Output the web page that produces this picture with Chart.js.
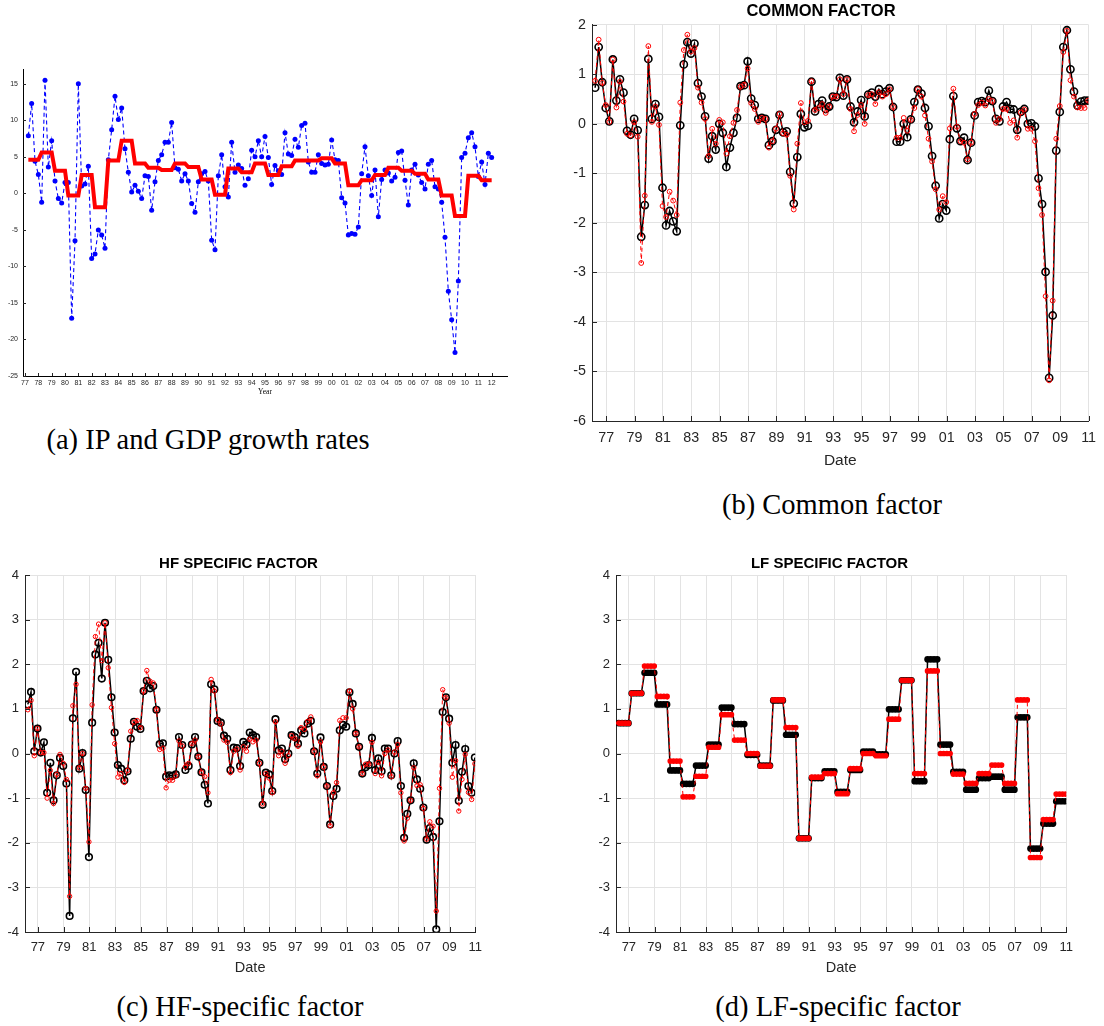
<!DOCTYPE html>
<html>
<head>
<meta charset="utf-8">
<script src="https://cdn.jsdelivr.net/npm/chart.js@4.4.1/dist/chart.umd.min.js"></script>
<style>
  body { margin: 0; background: #fff; width: 1104px; height: 1026px; position: relative; overflow: hidden; }
  canvas { position: absolute; }
  .cap { position: absolute; font-family: "Liberation Serif", "Times New Roman", serif; font-size: 28.5px; line-height: 28px; color: #000; text-align: center; white-space: nowrap; }
</style>
</head>
<body>
<canvas id="chartA" width="515" height="345" style="left:0;top:60px"></canvas>
<canvas id="chartB" width="556" height="478" style="left:548px;top:0"></canvas>
<canvas id="chartC" width="490" height="430" style="left:0;top:553px"></canvas>
<canvas id="chartD" width="490" height="430" style="left:591px;top:553px"></canvas>

<div class="cap" style="left:8px;width:400px;top:426px">(a) IP and GDP growth rates</div>
<div class="cap" style="left:632px;width:400px;top:491px">(b) Common factor</div>
<div class="cap" style="left:40px;width:400px;top:993px">(c) HF-specific factor</div>
<div class="cap" style="left:638px;width:400px;top:993px">(d) LF-specific factor</div>

<script>
// ========== data ==========
// (a) quarterly IP growth, 1977Q2 onwards, and annual GDP growth 1977-2011
const ipGrowth = [
  7.9, 12.3, 4.4, 2.6, -1.2, 15.5, 3.6, 7.2, 1.7, -0.7,
  -1.3, 1.5, 1.5, -17.1, -6.5, 15.0, 1.0, 1.3, 3.7, -8.9,
  -8.3, -5.0, -5.7, -7.5, 4.6, 8.7, 13.3, 10.1, 11.7, 6.1,
  2.9, 0.2, 1.1, 0.3, -0.7, 2.4, 2.3, -2.3, 1.6, 4.5,
  5.3, 7.0, 7.0, 9.7, 3.5, 3.3, 1.7, 2.7, 1.7, -1.4,
  -2.6, 1.6, 2.7, 3.0, 1.7, -6.4, -7.7, 2.4, 5.3, 0.9,
  -0.5, 7.0, 2.9, 3.9, 3.4, 1.1, 2.0, 5.9, 5.0, 7.2,
  5.0, 7.8, 4.9, 1.2, 3.8, 3.1, 2.6, 8.3, 5.4, 5.2,
  7.4, 6.3, 9.3, 9.6, 4.3, 2.9, 2.9, 5.3, 4.1, 3.9,
  4.0, 7.3, 4.6, 4.5, -0.6, -1.3, -5.7, -5.5, -5.6, -4.6,
  2.7, 6.4, 2.4, -0.3, 3.2, -3.2, 1.9, 3.2, 2.8, 1.7,
  2.2, 5.6, 5.8, 1.8, -1.6, 3.2, 4.0, 2.5, 1.5, 0.6,
  4.0, 4.5, 0.9, 0.6, -1.2, -6.0, -13.4, -17.3, -21.8, -12.0,
  4.9, 5.5, 7.6, 8.3, 6.4, 2.3, 4.3, 1.2, 5.5, 4.9
];
const gdpGrowth = [
  4.6, 5.6, 3.1, -0.3, 2.5, -1.9, 4.5, 7.2, 4.1, 3.5,
  3.2, 4.1, 3.6, 1.9, -0.2, 3.4, 2.9, 4.1, 2.5, 3.7,
  4.5, 4.5, 4.8, 4.1, 1.1, 1.8, 2.5, 3.5, 3.1, 2.7,
  1.9, -0.3, -3.1, 2.4, 1.8
];
const ticksA = [77, 78, 79, 80, 81, 82, 83, 84, 85, 86, 87, 88, 89, 90, 91, 92, 93, 94,
  95, 96, 97, 98, 99, 100, 101, 102, 103, 104, 105, 106, 107, 108, 109, 110, 111, 112];
const yTicksA = [-25, -20, -15, -10, -5, 0, 5, 10, 15];

// (b) common factor, quarterly 1976-2010 (black: estimate, red: comparison)
const commonBlack = [
  0.73, 1.55, 0.84, 0.32, 0.05, 1.30, 0.47, 0.90, 0.63, -0.14,
  -0.22, 0.10, -0.13, -2.28, -1.64, 1.31, 0.10, 0.40, 0.14, -1.29,
  -2.05, -1.76, -1.97, -2.17, -0.03, 1.20, 1.65, 1.42, 1.62, 0.82,
  0.55, 0.15, -0.70, -0.25, -0.52, 0.00, -0.18, -0.87, -0.48, -0.18,
  0.12, 0.76, 0.78, 1.26, 0.51, 0.38, 0.10, 0.12, 0.10, -0.43,
  -0.35, -0.12, 0.18, -0.17, -0.15, -0.97, -1.61, -0.67, 0.20, -0.07,
  -0.04, 0.85, 0.25, 0.40, 0.47, 0.30, 0.35, 0.55, 0.54, 0.93,
  0.57, 0.90, 0.35, 0.03, 0.25, 0.48, 0.15, 0.59, 0.63, 0.55,
  0.70, 0.60, 0.65, 0.72, 0.34, -0.36, -0.36, 0.00, -0.27, 0.09,
  0.44, 0.69, 0.61, 0.32, -0.05, -0.65, -1.25, -1.91, -1.62, -1.75,
  -0.31, 0.56, -0.09, -0.35, -0.28, -0.73, -0.38, 0.17, 0.44, 0.46,
  0.44, 0.67, 0.46, 0.10, 0.05, 0.35, 0.44, 0.30, 0.29, -0.12,
  0.24, 0.30, 0.00, 0.01, -0.05, -1.10, -1.62, -2.99, -5.13, -3.87,
  -0.54, 0.24, 1.55, 1.89, 1.10, 0.65, 0.37, 0.45, 0.47, 0.47
];
const commonRed = [
  0.87, 1.70, 0.83, 0.38, 0.04, 1.30, 0.33, 0.85, 0.45, -0.20,
  -0.23, 0.03, -0.26, -2.81, -1.45, 1.57, 0.04, 0.35, -0.02, -1.66,
  -1.88, -1.37, -1.55, -1.84, 0.43, 1.49, 1.80, 1.46, 1.53, 0.73,
  0.43, 0.10, -0.65, -0.10, -0.40, 0.08, 0.03, -0.60, -0.25, 0.02,
  0.28, 0.75, 0.79, 1.12, 0.42, 0.30, 0.04, 0.12, 0.10, -0.48,
  -0.35, -0.10, 0.20, -0.19, -0.22, -1.05, -1.73, -0.40, 0.42, 0.03,
  0.06, 0.86, 0.28, 0.32, 0.40, 0.22, 0.35, 0.55, 0.55, 0.90,
  0.60, 0.90, 0.30, -0.15, 0.18, 0.38, 0.00, 0.58, 0.60, 0.40,
  0.64, 0.55, 0.60, 0.70, 0.34, -0.28, -0.28, 0.12, -0.14, 0.08,
  0.32, 0.70, 0.55, 0.17, -0.30, -0.76, -1.32, -1.73, -1.46, -1.58,
  -0.09, 0.71, -0.06, -0.35, -0.38, -0.72, -0.38, 0.20, 0.38, 0.43,
  0.37, 0.50, 0.46, 0.02, 0.10, 0.30, 0.30, 0.02, 0.07, -0.28,
  0.23, 0.29, -0.10, -0.10, -0.35, -1.30, -1.84, -3.48, -5.18, -3.57,
  -0.30, 0.36, 1.45, 1.88, 0.88, 0.55, 0.33, 0.32, 0.32, 0.47
];

// (c) HF-specific factor, quarterly
const hfBlack = [
  1.10, 1.38, 0.05, 0.56, 0.02, 0.25, -0.88, -0.21, -1.05, -0.49,
  -0.10, -0.28, -0.67, -3.64, 0.79, 1.83, -0.34, 0.01, -0.82, -2.32,
  0.69, 2.22, 2.48, 1.68, 2.93, 2.10, 1.26, 0.47, -0.26, -0.34,
  -0.60, -0.40, 0.33, 0.71, 0.60, 0.55, 1.40, 1.63, 1.46, 1.51,
  0.98, 0.21, 0.23, -0.52, -0.49, -0.50, -0.47, 0.37, 0.19, -0.37,
  -0.28, 0.20, 0.37, -0.07, -0.42, -0.70, -1.12, 1.55, 1.44, 0.73,
  0.69, 0.40, 0.33, -0.37, 0.13, 0.12, -0.28, 0.26, 0.20, 0.47,
  0.41, 0.37, -0.21, -1.15, -0.43, -0.47, -0.84, 0.77, 0.07, 0.11,
  -0.13, 0.00, 0.41, 0.37, 0.22, 0.52, 0.45, 0.67, 0.73, 0.05,
  -0.45, 0.36, -0.30, -0.73, -1.59, -0.95, -0.79, 0.52, 0.64, 0.60,
  1.37, 1.11, 0.45, 0.15, -0.45, -0.31, -0.26, 0.35, -0.37, -0.11,
  -0.40, 0.11, 0.11, -0.49, 0.00, 0.28, -0.73, -1.89, -1.35, -1.05,
  -0.22, -0.58, -0.79, -1.21, -1.93, -1.67, -1.87, -3.94, -1.52, 0.93,
  1.26, 0.78, -0.21, 0.19, -1.06, -0.41, 0.10, -0.73, -0.88, -0.09
];
const hfRed = [
  0.98, 1.19, -0.05, 0.56, 0.02, 0.02, -1.00, -0.38, -1.12, -0.47,
  -0.02, -0.22, -0.58, -3.20, 1.07, 1.55, -0.32, 0.00, -0.78, -1.98,
  1.09, 2.62, 2.90, 2.08, 2.93, 1.92, 1.03, 0.22, -0.53, -0.45,
  -0.65, -0.38, 0.50, 0.70, 0.74, 0.58, 1.40, 1.86, 1.62, 1.58,
  0.98, 0.09, 0.12, -0.77, -0.60, -0.60, -0.50, 0.28, 0.17, -0.30,
  -0.22, 0.22, 0.30, -0.07, -0.42, -0.52, -0.88, 1.66, 1.40, 0.75,
  0.66, 0.30, 0.25, -0.43, 0.05, 0.10, -0.37, 0.15, 0.05, 0.32,
  0.26, 0.30, -0.22, -1.13, -0.45, -0.55, -0.88, 0.71, -0.05, 0.05,
  -0.22, -0.05, 0.40, 0.33, 0.16, 0.58, 0.54, 0.72, 0.82, 0.05,
  -0.50, 0.26, -0.30, -0.73, -1.62, -0.88, -0.65, 0.74, 0.80, 0.80,
  1.40, 1.00, 0.45, 0.15, -0.45, -0.24, -0.24, 0.25, -0.45, -0.20,
  -0.50, 0.00, 0.08, -0.52, 0.03, 0.20, -0.88, -1.96, -1.45, -1.05,
  -0.32, -0.72, -0.70, -1.23, -1.92, -1.53, -1.63, -3.53, -0.78, 1.43,
  1.25, 0.68, -0.53, -0.16, -1.29, -0.58, -0.02, -0.87, -1.03, -0.23
];

// (d) LF-specific factor, one value per year 1976-2010 (held over the 4 quarters)
const lfBlack = [
  0.68, 1.35, 1.81, 1.10, -0.38, -0.68, -0.27, 0.20, 1.03, 0.66,
  -0.03, -0.27, 1.19, 0.42, -1.90, -0.55, -0.40, -0.86, -0.37, 0.04,
  -0.02, 0.99, 1.64, -0.62, 2.11, 0.20, -0.41, -0.81, -0.55, -0.52,
  -0.81, 0.81, -2.13, -1.57, -1.07
];
const lfRed = [
  0.68, 1.35, 1.96, 1.28, -0.17, -0.97, -0.51, 0.14, 0.87, 0.30,
  0.00, -0.28, 1.20, 0.58, -1.90, -0.53, -0.45, -0.90, -0.34, 0.00,
  -0.05, 0.77, 1.64, -0.45, 1.85, 0.00, -0.46, -0.67, -0.45, -0.26,
  -0.67, 1.20, -2.33, -1.48, -0.91
];

const factorXTicks = [77, 79, 81, 83, 85, 87, 89, 91, 93, 95, 97, 99, 101, 103, 105, 107, 109, 111];
const factorYTicksB = [-6, -5, -4, -3, -2, -1, 0, 1, 2];
const factorYTicksCD = [-4, -3, -2, -1, 0, 1, 2, 3, 4];

// ========== helpers ==========
const SANS = '"Liberation Sans", Arial, Helvetica, sans-serif';
const TXT = '#262626';

// quarterly dates -> points
function quarterly(values, start) {
  return values.map((v, i) => ({ x: start + 0.25 * i, y: v }));
}
// annual value held for each quarter
function perQuarter(annual) {
  const out = [];
  annual.forEach(v => { for (let q = 0; q < 4; q++) out.push(v); });
  return out;
}
const yy = v => String(Math.round(v) % 100).padStart(2, '0');

// MATLAB-like inward tick marks
const inTicks = {
  id: 'inTicks',
  afterDraw(chart, args, opts) {
    const { ctx, chartArea: a } = chart;
    const x = chart.scales.x, y = chart.scales.y;
    const len = opts.len || 5;
    ctx.save();
    ctx.strokeStyle = TXT;
    ctx.lineWidth = 1;
    ctx.beginPath();
    x.ticks.forEach(t => {
      const px = Math.round(x.getPixelForValue(t.value)) + 0.5;
      ctx.moveTo(px, a.bottom); ctx.lineTo(px, a.bottom - len);
    });
    y.ticks.forEach(t => {
      const py = Math.round(y.getPixelForValue(t.value)) + 0.5;
      ctx.moveTo(a.left, py); ctx.lineTo(a.left + len, py);
    });
    ctx.stroke();
    ctx.restore();
  }
};
Chart.register(inTicks);

// ========== (a) IP and GDP ==========
function setupPanelA() {
  new Chart(document.getElementById('chartA'), {
    type: 'line',
    data: {
      datasets: [{
        data: quarterly(perQuarter(gdpGrowth), 77.25),
        borderColor: '#ff0000',
        borderWidth: 4,
        pointRadius: 0,
        tension: 0
      }, {
        data: quarterly(ipGrowth, 77.25),
        borderColor: '#0000ff',
        borderWidth: 1.1,
        borderDash: [4, 3],
        pointRadius: 2.5,
        pointBorderWidth: 0,
        pointBackgroundColor: '#0000ff',
        tension: 0
      }]
    },
    options: {
      responsive: false,
      animation: false,
      events: [],
      layout: { padding: { top: 5, right: 8, left: 0, bottom: 0 } },
      plugins: { legend: { display: false }, tooltip: { enabled: false }, inTicks: { len: 3 } },
      scales: {
        x: {
          type: 'linear', min: 76.85, max: 113.15,
          afterBuildTicks: s => { s.ticks = ticksA.map(v => ({ value: v })); },
          afterFit: s => { s.height = 29; },
          grid: { display: false, drawTicks: false },
          border: { color: '#000', width: 1 },
          ticks: { autoSkip: false, maxRotation: 0, minRotation: 0, padding: 3, color: TXT,
            font: { family: SANS, size: 7 }, callback: v => yy(v) },
          title: { display: true, text: 'Year', color: '#000',
            font: { family: '"Liberation Serif", serif', size: 7.5 }, padding: { top: 0, bottom: 8 } }
        },
        y: {
          min: -25, max: 17,
          afterBuildTicks: s => { s.ticks = yTicksA.map(v => ({ value: v })); },
          afterFit: s => { s.width = 23; },
          grid: { display: false, drawTicks: false },
          border: { color: '#000', width: 1 },
          ticks: { padding: 5, color: TXT, font: { family: SANS, size: 7 } }
        }
      }
    }
  });
}

// ========== (b)-(d) factor panels ==========
function setupFactorPanel(id, cfg) {
  new Chart(document.getElementById(id), {
    type: 'line',
    data: {
      datasets: [{
        data: quarterly(cfg.red, 76.22),
        borderColor: '#ff0000',
        borderWidth: 1,
        borderDash: [4, 3],
        pointRadius: cfg.redR,
        pointBorderWidth: cfg.redBW,
        pointBorderColor: '#ff0000',
        pointBackgroundColor: cfg.fill ? '#ff0000' : 'rgba(0,0,0,0)',
        tension: 0
      }, {
        data: quarterly(cfg.black, 76.22),
        borderColor: '#000',
        borderWidth: 1.5,
        pointRadius: cfg.blackR,
        pointBorderWidth: cfg.blackBW,
        pointBorderColor: '#000',
        pointBackgroundColor: cfg.fill ? '#000' : 'rgba(0,0,0,0)',
        tension: 0
      }]
    },
    options: {
      responsive: false,
      animation: false,
      events: [],
      layout: { padding: { top: 0, right: cfg.padRight, left: 0, bottom: 0 } },
      plugins: {
        legend: { display: false },
        tooltip: { enabled: false },
        inTicks: { len: 5 },
        title: {
          display: true, text: cfg.title, color: '#000',
          font: { family: SANS, size: cfg.titleSize, weight: 'bold' },
          padding: { top: cfg.titleTop, bottom: cfg.titleBottom }
        }
      },
      scales: {
        x: {
          type: 'linear', min: 76, max: 111,
          afterBuildTicks: s => { s.ticks = factorXTicks.map(v => ({ value: v })); },
          afterFit: s => { s.height = cfg.xHeight; },
          grid: { color: '#e3e3e3', drawTicks: false },
          border: { color: TXT, width: 1 },
          ticks: { autoSkip: false, maxRotation: 0, minRotation: 0, padding: 8, color: TXT,
            font: { family: SANS, size: cfg.tickSize }, callback: v => yy(v) },
          title: { display: true, text: 'Date', color: TXT,
            font: { family: SANS, size: cfg.labelSize }, padding: { top: 0, bottom: cfg.dateBottom } }
        },
        y: {
          min: cfg.yTicks[0], max: cfg.yTicks[cfg.yTicks.length - 1],
          afterBuildTicks: s => { s.ticks = cfg.yTicks.map(v => ({ value: v })); },
          afterFit: s => { s.width = cfg.yWidth; },
          grid: { color: '#e3e3e3', drawTicks: false },
          border: { color: TXT, width: 1 },
          ticks: { padding: 6, color: TXT, font: { family: SANS, size: cfg.tickSize } }
        }
      }
    }
  });
}

// ========== init ==========
setupPanelA();
setupFactorPanel('chartB', {
  title: 'COMMON FACTOR', black: commonBlack, red: commonRed, yTicks: factorYTicksB,
  titleSize: 16.5, titleTop: 2, titleBottom: 3, tickSize: 14.3, labelSize: 15.5,
  xHeight: 57, yWidth: 44, padRight: 10, dateBottom: 8,
  blackR: 3.6, blackBW: 1.6, redR: 2.4, redBW: 1, fill: false
});
setupFactorPanel('chartC', {
  title: 'HF SPECIFIC FACTOR', black: hfBlack, red: hfRed, yTicks: factorYTicksCD,
  titleSize: 15, titleTop: 2, titleBottom: 2, tickSize: 13, labelSize: 14.5,
  xHeight: 51, yWidth: 25, padRight: 13, dateBottom: 6,
  blackR: 3.3, blackBW: 1.6, redR: 2.2, redBW: 1, fill: false
});
setupFactorPanel('chartD', {
  title: 'LF SPECIFIC FACTOR', black: perQuarter(lfBlack), red: perQuarter(lfRed), yTicks: factorYTicksCD,
  titleSize: 15, titleTop: 2, titleBottom: 2, tickSize: 13, labelSize: 14.5,
  xHeight: 51, yWidth: 25, padRight: 13, dateBottom: 6,
  blackR: 2.6, blackBW: 1.5, redR: 2.1, redBW: 1.5, fill: true
});
</script>
</body>
</html>
